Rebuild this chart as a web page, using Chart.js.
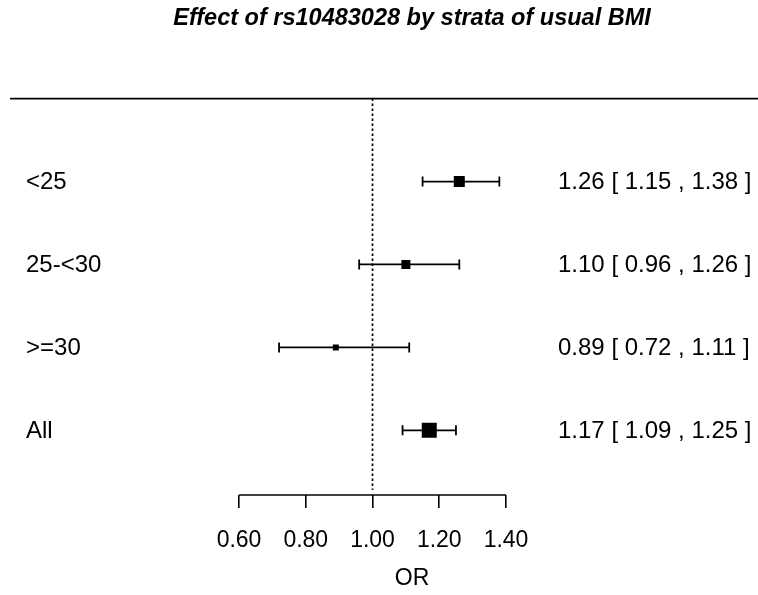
<!DOCTYPE html>
<html>
<head>
<meta charset="utf-8">
<script src="https://cdn.jsdelivr.net/npm/chart.js@4"></script>
<style>
html,body{margin:0;padding:0;background:#fff;}
#wrap{width:758px;height:595px;position:relative;}
</style>
</head>
<body>
<div id="wrap"><canvas id="c"></canvas></div>
<script>
// ---- data ----
const titleText = 'Effect of rs10483028 by strata of usual BMI';
const categories = ['<25', '25-<30', '>=30', 'All'];
const oddsRatio = [1.26, 1.10, 0.89, 1.17];
const lowerCI = [1.15, 0.96, 0.72, 1.09];
const upperCI = [1.38, 1.26, 1.11, 1.25];
const xTicks = [0.60, 0.80, 1.00, 1.20, 1.40];
const refValue = 1.00;
const xTitle = 'OR';

// ---- styles ----
const boxSides = [11, 9, 6, 15];
const textFont = '24px "Liberation Sans", Arial, sans-serif';

const rows = categories.map((_, i) => i + 1);
const yMax = 4.78;

const datasets = [];
// reference dotted line
datasets.push({
  type: 'line',
  data: [{x: refValue, y: 0}, {x: refValue, y: yMax - 0.06}],
  borderColor: '#000', borderWidth: 1.7, borderDash: [2.5, 2.5],
  pointRadius: 0, showLine: true, clip: false
});
// whiskers
categories.forEach((c, i) => {
  datasets.push({
    type: 'line',
    label: c,
    data: [{x: lowerCI[i], y: rows[i]}, {x: upperCI[i], y: rows[i]}],
    borderColor: '#000', borderWidth: 1.8, showLine: true,
    pointStyle: 'line', pointRotation: 90, pointRadius: 5,
    pointBorderWidth: 1.8, pointBorderColor: '#000'
  });
});
// point estimates
datasets.push({
  type: 'scatter',
  data: oddsRatio.map((v, i) => ({x: v, y: rows[i]})),
  pointStyle: 'rect',
  pointRadius: boxSides.map(s => s / Math.SQRT2),
  backgroundColor: '#000', borderWidth: 0
});

const forestPlugin = {
  id: 'forestText',
  afterDraw(chart) {
    const ctx = chart.ctx;
    const xs = chart.scales.x, ys = chart.scales.y;
    ctx.save();
    // top rule
    ctx.strokeStyle = '#000';
    ctx.lineWidth = 1.6;
    ctx.beginPath();
    const yt = ys.getPixelForValue(0);
    ctx.moveTo(10, yt); ctx.lineTo(chart.width, yt);
    ctx.stroke();
    // x axis line (only over tick range)
    const yb = chart.chartArea.bottom;
    ctx.beginPath();
    ctx.moveTo(xs.getPixelForValue(xTicks[0]), yb);
    ctx.lineTo(xs.getPixelForValue(xTicks[xTicks.length - 1]), yb);
    ctx.stroke();
    // labels
    ctx.fillStyle = '#000';
    ctx.font = textFont;
    ctx.textBaseline = 'middle';
    ctx.textAlign = 'left';
    categories.forEach((c, i) => {
      const y = ys.getPixelForValue(rows[i]) + 1;
      ctx.fillText(c, 26, y);
      const t = oddsRatio[i].toFixed(2) + ' [ ' + lowerCI[i].toFixed(2) + ' , ' + upperCI[i].toFixed(2) + ' ]';
      ctx.fillText(t, 558, y);
    });
    ctx.restore();
  }
};

new Chart(document.getElementById('c'), {
  data: {datasets},
  options: {
    responsive: true,
    maintainAspectRatio: false,
    animation: false,
    layout: {autoPadding: false, padding: {left: 66, right: 0, top: 0, bottom: 0}},
    plugins: {
      legend: {display: false},
      tooltip: {enabled: false},
      title: {
        display: true,
        text: titleText,
        color: '#000',
        font: {family: '"Liberation Sans", Arial, sans-serif', size: 23.5, weight: 'bold', style: 'italic'},
        padding: {top: 4, bottom: 66.4}
      }
    },
    scales: {
      x: {
        type: 'linear',
        min: 0.0816, max: 2.155,
        afterBuildTicks: s => { s.ticks = xTicks.map(v => ({value: v})); },
        afterFit: s => { s.height = 100; },
        ticks: {
          color: '#000', padding: 19,
          font: {family: '"Liberation Sans", Arial, sans-serif', size: 23},
          callback: v => Number(v).toFixed(2),
          maxRotation: 0, autoSkip: false
        },
        grid: {display: true, drawOnChartArea: false, drawTicks: true, tickLength: 13, color: '#000', lineWidth: 1.6},
        border: {display: false},
        title: {
          display: true, text: xTitle, color: '#000',
          font: {family: '"Liberation Sans", Arial, sans-serif', size: 23},
          padding: {top: 0, bottom: 3}
        }
      },
      y: {
        type: 'linear', reverse: true, min: 0, max: yMax, display: false
      }
    }
  },
  plugins: [forestPlugin]
});
</script>
</body>
</html>
